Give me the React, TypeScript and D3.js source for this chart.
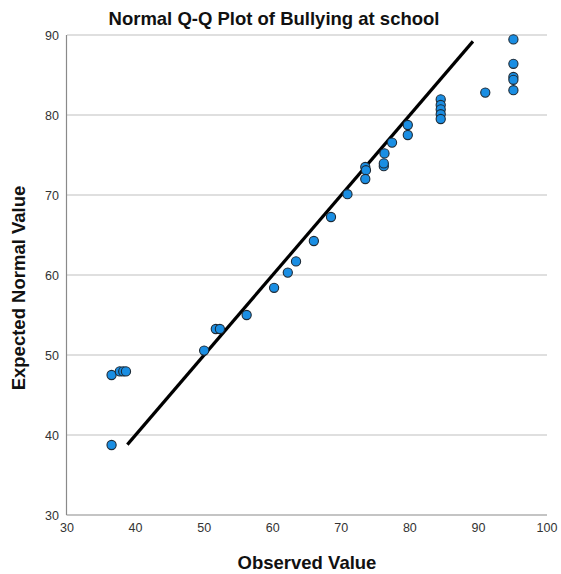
import React from "react";
import * as d3 from "d3";

const observed: number[] = [
  36.5, 36.5, 37.7, 38.2, 38.6, 50.0, 51.7, 52.3, 56.2, 60.2, 62.2, 63.4, 66.0, 68.5, 70.9,
  73.5, 73.6, 73.5, 76.2, 76.3, 76.2, 77.4, 79.7, 79.7,
  84.5, 84.5, 84.5, 84.5, 84.5, 91.0, 95.1, 95.1, 95.1, 95.1, 95.1,
];
const expected: number[] = [
  38.75, 47.5, 47.95, 47.95, 47.95, 50.55, 53.25, 53.25, 55.0, 58.4, 60.3, 61.7, 64.25, 67.25, 70.1,
  73.5, 73.1, 72.0, 73.6, 75.2, 73.95, 76.55, 78.75, 77.5,
  81.95, 81.25, 80.7, 80.1, 79.5, 82.8, 89.45, 86.4, 84.75, 84.4, 83.1,
];
const lineEnds: number[] = [38.8, 89.2];
const xTicks: number[] = [30, 40, 50, 60, 70, 80, 90, 100];
const yTicks: number[] = [30, 40, 50, 60, 70, 80, 90];
const title = "Normal Q-Q Plot of Bullying at school";
const xLabel = "Observed Value";
const yLabel = "Expected Normal Value";

export default function App() {
  const W = 561, H = 574;
  const left = 67, right = 547, top = 35, bottom = 515;
  const x = d3.scaleLinear().domain([30, 100]).range([left, right]);
  const y = d3.scaleLinear().domain([30, 90]).range([bottom, top]);
  const font = "'Liberation Sans', Arial, sans-serif";
  const line = d3.line<number>().x((v) => x(v)).y((v) => y(v));
  return (
    <svg width={W} height={H} style={{ position: "absolute", left: 0, top: 0, background: "#fff" }}>
      <rect x={0} y={0} width={W} height={H} fill="#fff" />
      {yTicks.filter((t) => t > 30).map((t) => (
        <line key={"g" + t} x1={left} x2={right} y1={y(t)} y2={y(t)} stroke="#d4d4d4" strokeWidth={1.5} />
      ))}
      <line x1={left - 0.5} x2={left - 0.5} y1={top} y2={bottom} stroke="#8a8a8a" strokeWidth={1.2} />
      <line x1={left - 0.5} x2={right} y1={bottom} y2={bottom} stroke="#8a8a8a" strokeWidth={1.2} />
      {yTicks.map((t) => (
        <text key={"yt" + t} x={left - 8} y={y(t) + 4.5} textAnchor="end" fontFamily={font} fontSize={12.5} fill="#333">{t}</text>
      ))}
      {xTicks.map((t) => (
        <text key={"xt" + t} x={x(t)} y={bottom + 17} textAnchor="middle" fontFamily={font} fontSize={12.5} fill="#333">{t}</text>
      ))}
      <path d={line(lineEnds) || ""} stroke="#000" strokeWidth={3.2} fill="none" />
      {observed.map((o, i) => (
        <circle key={"p" + i} cx={x(o)} cy={y(expected[i])} r={4.6} fill="#1a8ee3" stroke="#1d2a36" strokeWidth={1.1} />
      ))}
      <text x={274} y={25} textAnchor="middle" fontFamily={font} fontSize={18.5} fontWeight="bold" fill="#111">{title}</text>
      <text x={307} y={569} textAnchor="middle" fontFamily={font} fontSize={18.5} fontWeight="bold" fill="#111">{xLabel}</text>
      <text transform={`translate(25, 288) rotate(-90)`} textAnchor="middle" fontFamily={font} fontSize={18.5} fontWeight="bold" fill="#111">{yLabel}</text>
    </svg>
  );
}
